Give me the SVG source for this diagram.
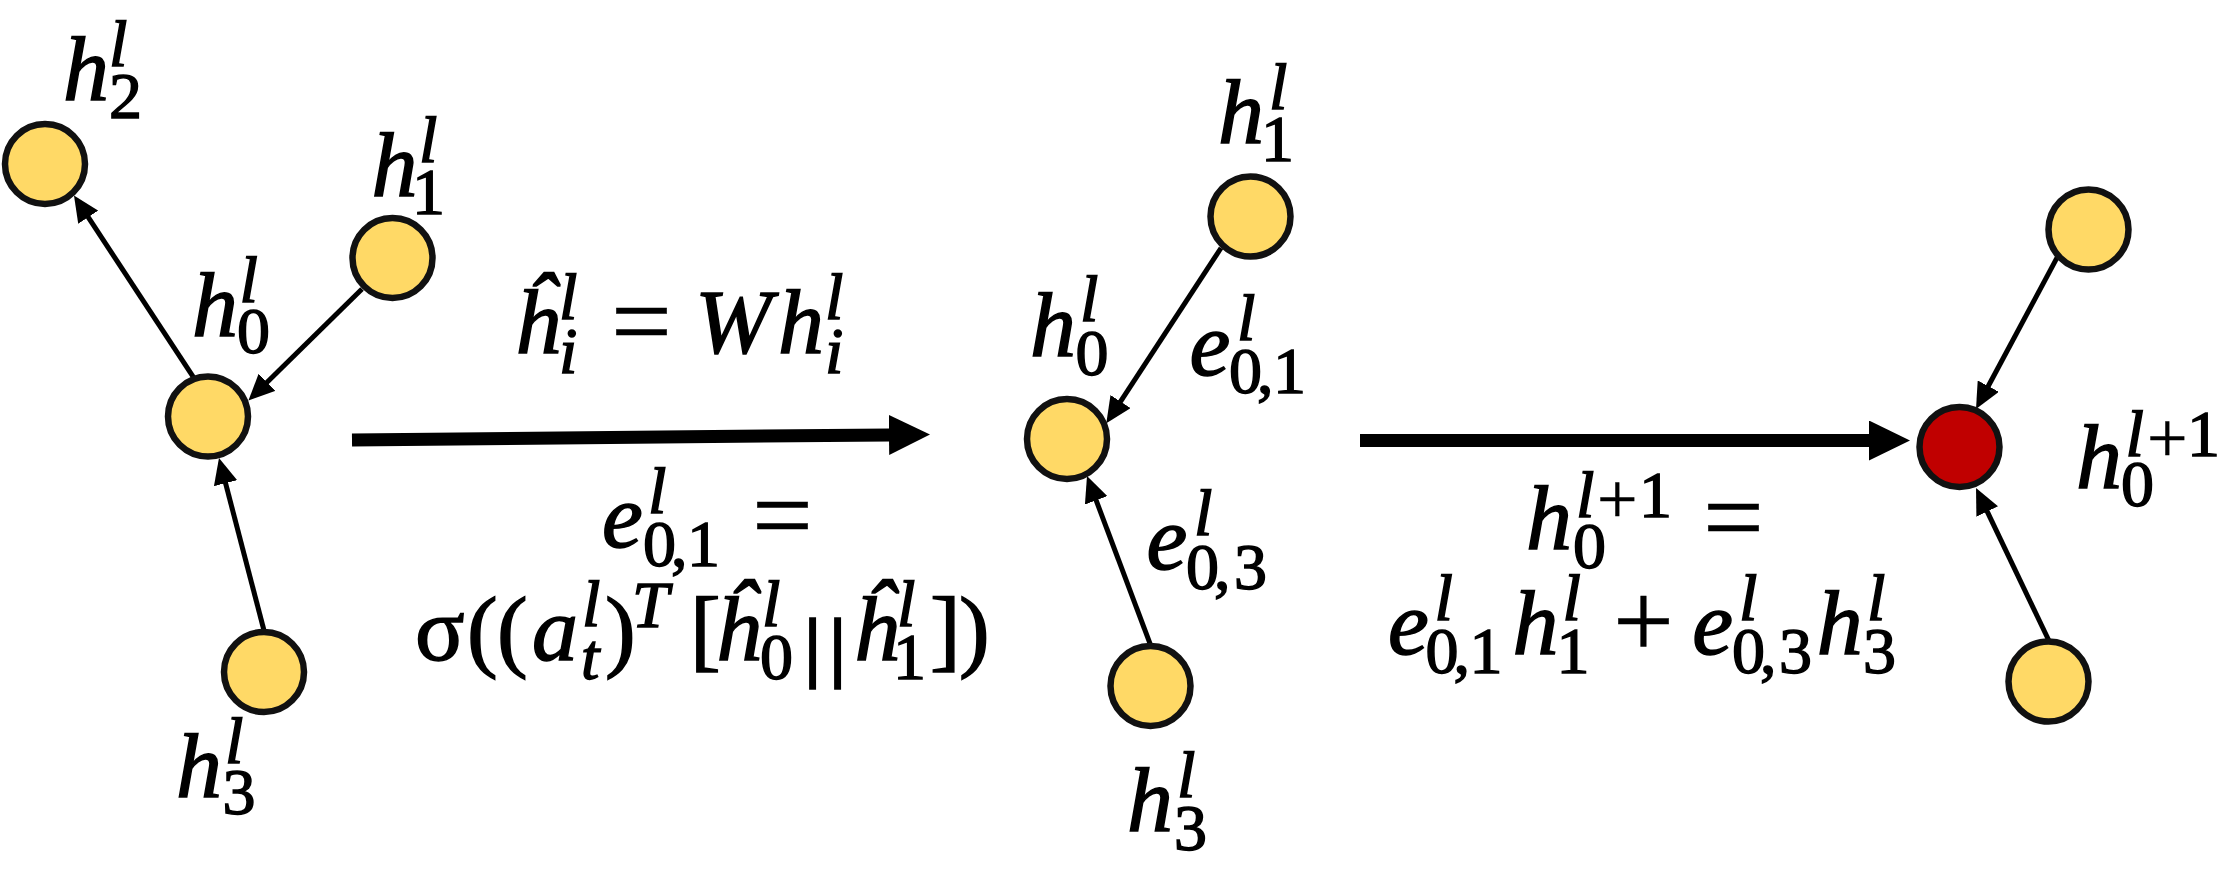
<svg xmlns="http://www.w3.org/2000/svg" width="2237" height="871" viewBox="0 0 2237 871">
<style>
text{font-family:"Liberation Serif","Times New Roman",serif;font-size:92px;font-style:italic;fill:#000;stroke:#000;stroke-width:1.5}
.s{font-size:66px}
.u{font-style:normal}
.op{font-size:108px;font-style:normal;stroke-width:0.5}
.sop{font-size:72px;font-style:normal;stroke-width:0.5}
.bar{font-size:78px;font-style:normal;font-weight:bold}
.node{stroke:#111;stroke-width:6.5}
.y{fill:#FFD966}
.r{fill:#C00000}
.edge{stroke:#000;stroke-width:5;fill:none}
.big{stroke:#000;stroke-width:13;fill:none}
</style>
<defs>
<marker id="ah" markerUnits="userSpaceOnUse" markerWidth="26" markerHeight="24" refX="1" refY="12" orient="auto"><path d="M0,0 L26,12 L0,24 Z" fill="#000"/></marker>
<marker id="bh" markerUnits="userSpaceOnUse" markerWidth="41" markerHeight="40" refX="1" refY="20" orient="auto"><path d="M0,0 L41,20 L0,40 Z" fill="#000"/></marker>
</defs>
<rect width="2237" height="871" fill="#fff"/>
<g id="connectors">
<path class="edge" marker-end="url(#ah)" d="M193.7,377.7 L87.7,216.4"/>
<path class="edge" marker-end="url(#ah)" d="M362,289 L266.3,383"/>
<path class="edge" marker-end="url(#ah)" d="M264,630.5 L225.3,482.2"/>
<path class="edge" marker-end="url(#ah)" d="M1221,248 L1120,402.4"/>
<path class="edge" marker-end="url(#ah)" d="M1150.3,644.4 L1095.8,499.4"/>
<path class="edge" marker-end="url(#ah)" d="M2057.6,256.6 L1987.8,387"/>
<path class="edge" marker-end="url(#ah)" d="M2048.6,640 L1986.8,510.6"/>
<path class="big" marker-end="url(#bh)" d="M352,440 L890,434.9"/>
<path class="big" marker-end="url(#bh)" d="M1360,440.5 L1870,440.5"/>
</g>
<g id="left-h2">
<circle class="node y" cx="45" cy="164" r="40"/>
<text><tspan x="63" y="100">h</tspan><tspan class="s" x="109" y="66">l</tspan><tspan class="s u" x="109" y="118">2</tspan></text>
</g>
<g id="left-h1">
<circle class="node y" cx="392.5" cy="258" r="40"/>
<text><tspan x="371.5" y="195.5">h</tspan><tspan class="s" x="419" y="162">l</tspan><tspan class="s u" x="412" y="214">1</tspan></text>
</g>
<g id="left-h0">
<circle class="node y" cx="208" cy="416.5" r="40"/>
<text><tspan x="192" y="336">h</tspan><tspan class="s" x="239.5" y="302">l</tspan><tspan class="s u" x="237" y="353">0</tspan></text>
</g>
<g id="left-h3">
<circle class="node y" cx="264" cy="672" r="40"/>
<text><tspan x="176" y="797">h</tspan><tspan class="s" x="225" y="763">l</tspan><tspan class="s u" x="222.5" y="814">3</tspan></text>
</g>
<g id="label-transform">
<text><tspan x="513.7" y="353">ĥ</tspan><tspan class="s" x="559" y="319">l</tspan><tspan class="s" x="559" y="373">i</tspan><tspan class="op" x="611" y="357">=</tspan><tspan x="695" y="353">W</tspan><tspan x="778" y="353">h</tspan><tspan class="s" x="825" y="319">l</tspan><tspan class="s" x="825" y="373">i</tspan></text>
</g>
<g id="label-attention">
<text><tspan x="602" y="547">e</tspan><tspan class="s" x="648" y="513">l</tspan><tspan class="s u" x="643 671 687" y="566">0,1</tspan><tspan class="op" x="752" y="551">=</tspan></text>
<text><tspan class="u" x="415" y="660">σ</tspan><tspan class="u" x="467" y="660">(</tspan><tspan class="u" x="497" y="660">(</tspan><tspan x="532" y="660">a</tspan><tspan class="s" x="582" y="626">l</tspan><tspan class="s" x="581" y="679">t</tspan><tspan class="u" x="605" y="660">)</tspan><tspan class="s" x="632" y="627">T</tspan><tspan class="u" x="690" y="660">[</tspan><tspan x="714.6" y="660">ĥ</tspan><tspan class="s" x="762" y="626">l</tspan><tspan class="s u" x="760" y="679">0</tspan><tspan class="bar" x="804" y="672">|</tspan><tspan class="bar" x="829" y="672">|</tspan><tspan x="852.4" y="660">ĥ</tspan><tspan class="s" x="897" y="626">l</tspan><tspan class="s u" x="893" y="679">1</tspan><tspan class="u" x="930" y="660">]</tspan><tspan class="u" x="959" y="660">)</tspan></text>
</g>
<g id="mid-h1">
<circle class="node y" cx="1250.5" cy="216.5" r="40"/>
<text><tspan x="1218" y="143">h</tspan><tspan class="s" x="1269" y="109">l</tspan><tspan class="s u" x="1261" y="161">1</tspan></text>
</g>
<g id="mid-h0">
<circle class="node y" cx="1067" cy="439" r="40"/>
<text><tspan x="1030" y="355.5">h</tspan><tspan class="s" x="1080" y="321">l</tspan><tspan class="s u" x="1075.6" y="375">0</tspan></text>
</g>
<g id="mid-h3">
<circle class="node y" cx="1150.5" cy="686" r="40"/>
<text><tspan x="1127" y="830.5">h</tspan><tspan class="s" x="1177" y="797">l</tspan><tspan class="s u" x="1174" y="850">3</tspan></text>
</g>
<g id="label-e01">
<text><tspan x="1189.4" y="375">e</tspan><tspan class="s" x="1237" y="340">l</tspan><tspan class="s u" x="1229 1257 1273" y="393">0,1</tspan></text>
</g>
<g id="label-e03">
<text><tspan x="1146.4" y="569.4">e</tspan><tspan class="s" x="1194" y="535">l</tspan><tspan class="s u" x="1186 1214 1234" y="589">0,3</tspan></text>
</g>
<g id="label-aggregate">
<text><tspan x="1526" y="548.5">h</tspan><tspan class="s" x="1576" y="517">l</tspan><tspan class="sop" x="1597" y="523">+</tspan><tspan class="s u" x="1639" y="517">1</tspan><tspan class="s u" x="1573" y="567.5">0</tspan><tspan class="op" x="1703" y="553">=</tspan></text>
<text><tspan x="1388" y="653.7">e</tspan><tspan class="s" x="1434.5" y="620">l</tspan><tspan class="s u" x="1425.5 1453.5 1469.5" y="672.5">0,1</tspan><tspan x="1512.4" y="653.7">h</tspan><tspan class="s" x="1562.5" y="620">l</tspan><tspan class="s u" x="1556.4" y="672.5">1</tspan><tspan class="op" x="1613" y="657">+</tspan><tspan x="1692.3" y="653.7">e</tspan><tspan class="s" x="1739" y="620">l</tspan><tspan class="s u" x="1732 1760 1779" y="672.5">0,3</tspan><tspan x="1816.7" y="653.7">h</tspan><tspan class="s" x="1867" y="620">l</tspan><tspan class="s u" x="1863" y="672.5">3</tspan></text>
</g>
<g id="right-h1">
<circle class="node y" cx="2088.5" cy="229.5" r="40"/>
</g>
<g id="right-h3">
<circle class="node y" cx="2048.5" cy="681.5" r="40"/>
</g>
<g id="right-h0">
<circle class="node r" cx="1959.5" cy="447" r="40"/>
<text><tspan x="2076" y="487.7">h</tspan><tspan class="s" x="2125.5" y="455.5">l</tspan><tspan class="sop" x="2147" y="462">+</tspan><tspan class="s u" x="2187" y="455.5">1</tspan><tspan class="s u" x="2121" y="505.5">0</tspan></text>
</g>
</svg>
